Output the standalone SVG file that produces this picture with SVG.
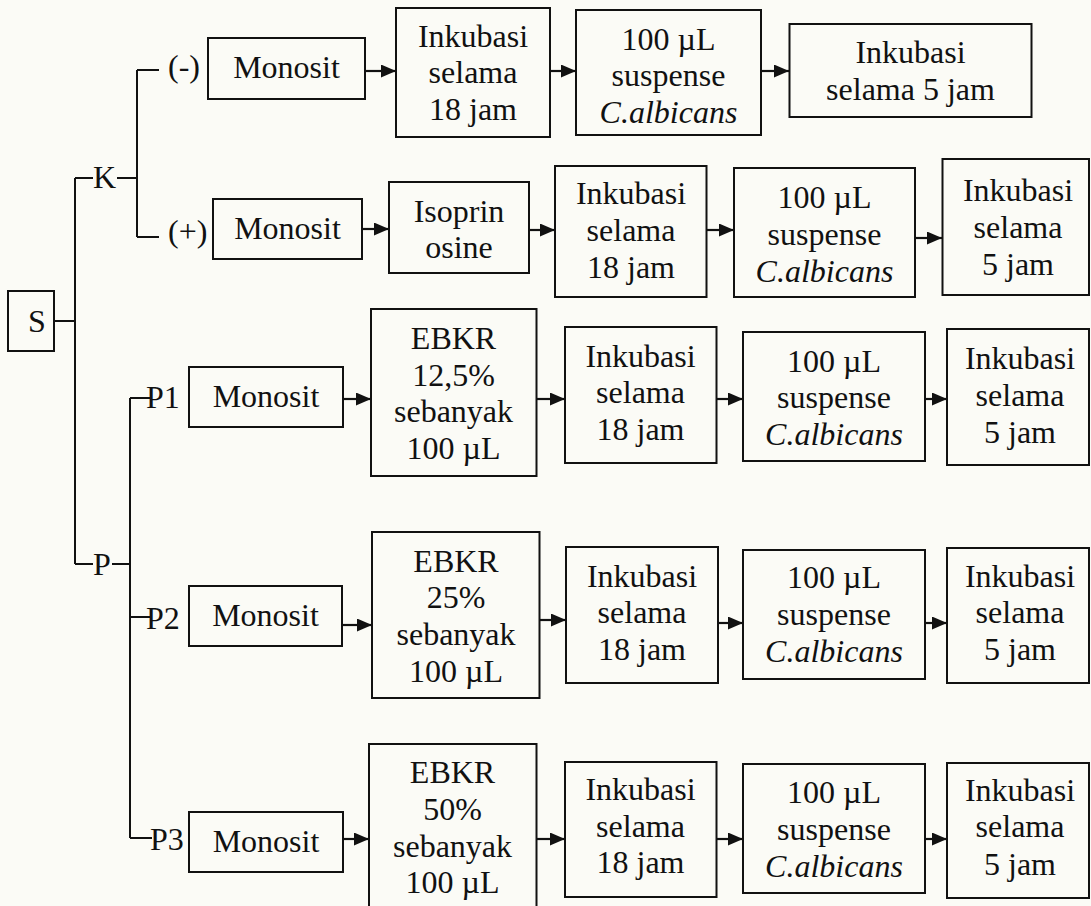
<svg xmlns="http://www.w3.org/2000/svg" width="1091" height="906" viewBox="0 0 1091 906">
<defs>
<marker id="ah" viewBox="0 0 15 13" refX="15" refY="6.5" markerWidth="15" markerHeight="13" markerUnits="userSpaceOnUse" orient="auto">
<path d="M0,0 L15,6.5 L0,13 z" fill="#111"/>
</marker>
<style>
.bx{fill:none;stroke:#111;stroke-width:2}
.ln{fill:none;stroke:#111;stroke-width:2}
.ar{fill:none;stroke:#111;stroke-width:2.2;marker-end:url(#ah)}
text{font-family:"Liberation Serif","Times New Roman",serif;font-size:32px;fill:#111}
.c{text-anchor:middle}
.i{font-style:italic}
</style>
</defs>
<rect x="0" y="0" width="1091" height="906" fill="#fbfbf6"/>

<g id="tree">
<path class="ln" d="M54,321 H75 M75,178 V564 M75,178 H93 M117,178 H137 M137,70 V237 M137,70 H159 M137,237 H159 M75,564 H93 M112,564 H130 M130,398 V838 M130,398 H150 M130,617 H150 M130,838 H152"/>
</g>

<g id="S"><rect class="bx" x="8" y="291" width="46" height="60"/><text x="37" y="332" class="c">S</text></g>
<g id="K"><text x="93" y="188">K</text></g>
<g id="P"><text x="93" y="575">P</text></g>
<g id="neg"><text x="168" y="77">(-)</text></g>
<g id="pos"><text x="168" y="242">(+)</text></g>
<g id="P1"><text x="146" y="408">P1</text></g>
<g id="P2"><text x="146" y="629">P2</text></g>
<g id="P3"><text x="150" y="850">P3</text></g>

<g id="connectors">
<line class="ar" x1="365" y1="71" x2="396" y2="71"/>
<line class="ar" x1="550" y1="71" x2="576" y2="71"/>
<line class="ar" x1="761" y1="71" x2="789" y2="71"/>
<line class="ar" x1="362" y1="229" x2="389" y2="229"/>
<line class="ar" x1="529" y1="230" x2="555" y2="230"/>
<line class="ar" x1="706" y1="230" x2="734" y2="230"/>
<line class="ar" x1="915" y1="238" x2="942" y2="238"/>
<line class="ar" x1="343" y1="399" x2="371" y2="399"/>
<line class="ar" x1="536" y1="399" x2="565" y2="399"/>
<line class="ar" x1="716" y1="399" x2="743" y2="399"/>
<line class="ar" x1="925" y1="399" x2="947" y2="399"/>
<line class="ar" x1="342" y1="625" x2="372" y2="625"/>
<line class="ar" x1="540" y1="620" x2="566" y2="620"/>
<line class="ar" x1="718" y1="623" x2="743" y2="623"/>
<line class="ar" x1="925" y1="623" x2="947" y2="623"/>
<line class="ar" x1="343" y1="839" x2="369" y2="839"/>
<line class="ar" x1="536" y1="839" x2="565" y2="839"/>
<line class="ar" x1="716" y1="839" x2="743" y2="839"/>
<line class="ar" x1="925" y1="839" x2="947" y2="839"/>
</g>

<!-- Row K(-) -->
<g id="mon-neg"><rect class="bx" x="208" y="38" width="157" height="61"/><text x="286.5" y="78" class="c">Monosit</text></g>
<g id="ink18-neg"><rect class="bx" x="396" y="8" width="154" height="129"/><text class="c" x="473" y="47">Inkubasi</text><text class="c" x="473" y="83">selama</text><text class="c" x="473" y="120">18 jam</text></g>
<g id="sus-neg"><rect class="bx" x="576" y="10" width="185" height="125"/><text class="c" x="668.5" y="50">100 µL</text><text class="c" x="668.5" y="86">suspense</text><text class="c i" x="668.5" y="123">C.albicans</text></g>
<g id="ink5-neg"><rect class="bx" x="789.5" y="24" width="242" height="93"/><text class="c" x="910.5" y="63">Inkubasi</text><text class="c" x="910.5" y="100">selama 5 jam</text></g>

<!-- Row K(+) -->
<g id="mon-pos"><rect class="bx" x="213" y="199" width="149" height="60"/><text x="287.5" y="239" class="c">Monosit</text></g>
<g id="iso"><rect class="bx" x="389" y="182" width="140" height="91"/><text class="c" x="459" y="222">Isoprin</text><text class="c" x="459" y="258">osine</text></g>
<g id="ink18-pos"><rect class="bx" x="555" y="166" width="151.5" height="131"/><text class="c" x="631" y="204">Inkubasi</text><text class="c" x="631" y="241">selama</text><text class="c" x="631" y="278">18 jam</text></g>
<g id="sus-pos"><rect class="bx" x="734" y="168" width="181" height="129"/><text class="c" x="824.5" y="208">100 µL</text><text class="c" x="824.5" y="245">suspense</text><text class="c i" x="824.5" y="282">C.albicans</text></g>
<g id="ink5-pos"><rect class="bx" x="942.5" y="159" width="146.5" height="136"/><text class="c" x="1018" y="201">Inkubasi</text><text class="c" x="1018" y="238">selama</text><text class="c" x="1018" y="275">5 jam</text></g>

<!-- Row P1 -->
<g id="mon-p1"><rect class="bx" x="189" y="367" width="154" height="60"/><text x="266" y="407" class="c">Monosit</text></g>
<g id="ebkr-p1"><rect class="bx" x="371" y="309" width="165.5" height="167"/><text class="c" x="453.5" y="349">EBKR</text><text class="c" x="453.5" y="386">12,5%</text><text class="c" x="453.5" y="422">sebanyak</text><text class="c" x="453.5" y="459">100 µL</text></g>
<g id="ink18-p1"><rect class="bx" x="565" y="327" width="151.5" height="136"/><text class="c" x="640.5" y="367">Inkubasi</text><text class="c" x="640.5" y="403">selama</text><text class="c" x="640.5" y="440">18 jam</text></g>
<g id="sus-p1"><rect class="bx" x="743" y="332" width="182" height="129"/><text class="c" x="834" y="372">100 µL</text><text class="c" x="834" y="408">suspense</text><text class="c i" x="834" y="445">C.albicans</text></g>
<g id="ink5-p1"><rect class="bx" x="947" y="329" width="142" height="136"/><text class="c" x="1020" y="369">Inkubasi</text><text class="c" x="1020" y="406">selama</text><text class="c" x="1020" y="443">5 jam</text></g>

<!-- Row P2 -->
<g id="mon-p2"><rect class="bx" x="189" y="586" width="153" height="60"/><text x="265.5" y="626" class="c">Monosit</text></g>
<g id="ebkr-p2"><rect class="bx" x="372" y="532" width="167.5" height="166"/><text class="c" x="456" y="572">EBKR</text><text class="c" x="456" y="608">25%</text><text class="c" x="456" y="645">sebanyak</text><text class="c" x="456" y="682">100 µL</text></g>
<g id="ink18-p2"><rect class="bx" x="566" y="547" width="152" height="136"/><text class="c" x="642" y="587">Inkubasi</text><text class="c" x="642" y="623">selama</text><text class="c" x="642" y="660">18 jam</text></g>
<g id="sus-p2"><rect class="bx" x="743" y="550" width="182" height="129"/><text class="c" x="834" y="588">100 µL</text><text class="c" x="834" y="625">suspense</text><text class="c i" x="834" y="662">C.albicans</text></g>
<g id="ink5-p2"><rect class="bx" x="947" y="548" width="142" height="135"/><text class="c" x="1020" y="587">Inkubasi</text><text class="c" x="1020" y="623">selama</text><text class="c" x="1020" y="660">5 jam</text></g>

<!-- Row P3 -->
<g id="mon-p3"><rect class="bx" x="189" y="812" width="154" height="60"/><text x="266" y="852" class="c">Monosit</text></g>
<g id="ebkr-p3"><rect class="bx" x="369" y="744" width="167.5" height="180"/><text class="c" x="452.5" y="783">EBKR</text><text class="c" x="452.5" y="820">50%</text><text class="c" x="452.5" y="857">sebanyak</text><text class="c" x="452.5" y="893">100 µL</text></g>
<g id="ink18-p3"><rect class="bx" x="565" y="762" width="151.5" height="135"/><text class="c" x="640.5" y="800">Inkubasi</text><text class="c" x="640.5" y="837">selama</text><text class="c" x="640.5" y="873">18 jam</text></g>
<g id="sus-p3"><rect class="bx" x="743" y="764" width="182" height="129"/><text class="c" x="834" y="803">100 µL</text><text class="c" x="834" y="840">suspense</text><text class="c i" x="834" y="877">C.albicans</text></g>
<g id="ink5-p3"><rect class="bx" x="947" y="763" width="142" height="135"/><text class="c" x="1020" y="801">Inkubasi</text><text class="c" x="1020" y="837">selama</text><text class="c" x="1020" y="875">5 jam</text></g>
</svg>
